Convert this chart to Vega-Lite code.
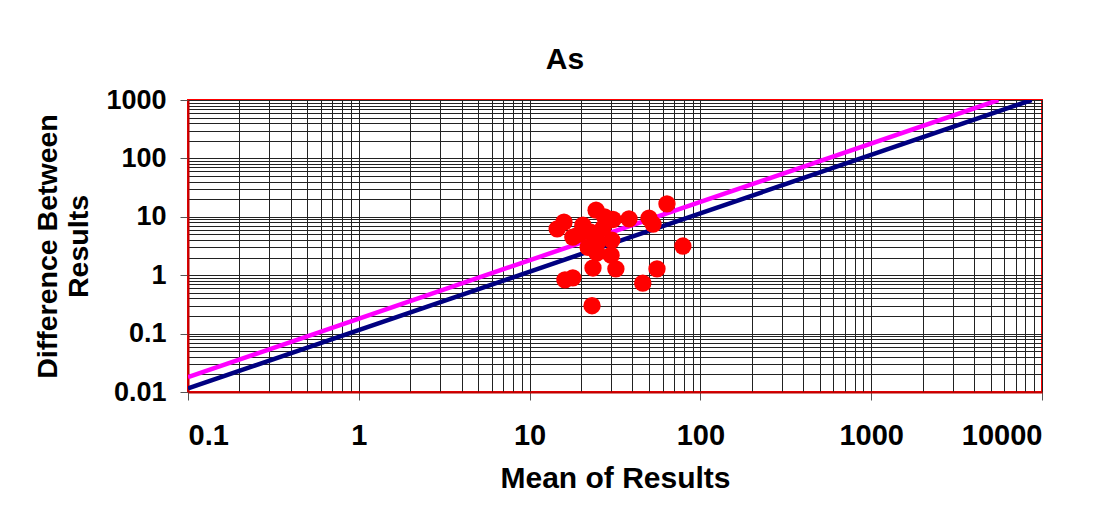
{
  "$schema": "https://vega.github.io/schema/vega-lite/v6.json",
  "width": 854,
  "height": 292,
  "autosize": {"type": "none"},
  "padding": {"left": 188, "top": 100, "right": 67, "bottom": 114},
  "background": "white",
  "title": {"text": "As", "fontSize": 30, "font": "Liberation Sans", "fontWeight": "bold", "color": "black", "offset": 11, "anchor": "middle", "dx": -50},
  "config": {
    "view": {"stroke": "red", "strokeWidth": 2},
    "axis": {
      "labelFont": "Liberation Sans", "labelFontWeight": "bold", "labelColor": "black",
      "titleFont": "Liberation Sans", "titleFontWeight": "bold", "titleColor": "black",
      "gridColor": "#222222", "gridWidth": 1, "gridOpacity": 1,
      "domainColor": "#c00000", "domainWidth": 2,
      "tickColor": "#555555", "tickSize": 8, "tickWidth": 1,
      "format": "~g",
      "labelExpr": "abs(log(datum.value)/LN10 - round(log(datum.value)/LN10)) < 0.001 ? datum.label : ''",
      "tickOpacity": {"condition": {"test": "abs(log(datum.value)/LN10 - round(log(datum.value)/LN10)) < 0.001", "value": 1}, "value": 0}
    }
  },
  "datasets": {
    "points": [
      {"mean": 14.5, "diff": 6.2},
      {"mean": 15.9, "diff": 8.1},
      {"mean": 17.9, "diff": 4.5},
      {"mean": 20.5, "diff": 7.2},
      {"mean": 24.5, "diff": 13},
      {"mean": 30.8, "diff": 9.0},
      {"mean": 38.2, "diff": 9.2},
      {"mean": 50, "diff": 9.5},
      {"mean": 52.8, "diff": 7.5},
      {"mean": 63.7, "diff": 16.6},
      {"mean": 79, "diff": 3.16},
      {"mean": 16.1, "diff": 0.83},
      {"mean": 17.9, "diff": 0.9},
      {"mean": 23.2, "diff": 0.3},
      {"mean": 23.5, "diff": 1.33},
      {"mean": 32, "diff": 1.28},
      {"mean": 46, "diff": 0.73},
      {"mean": 55.7, "diff": 1.28},
      {"mean": 22.6, "diff": 5.5},
      {"mean": 26.9, "diff": 6.4},
      {"mean": 25.1, "diff": 3.7},
      {"mean": 30.3, "diff": 4.0},
      {"mean": 24.8, "diff": 2.4},
      {"mean": 30, "diff": 2.2},
      {"mean": 19.5, "diff": 5.0},
      {"mean": 27.5, "diff": 10},
      {"mean": 22, "diff": 3.0}
    ],
    "lines": [
      {"series": "a", "mean": 0.1, "diff": 0.0115},
      {"series": "a", "mean": 8696, "diff": 1000},
      {"series": "b", "mean": 0.1, "diff": 0.018},
      {"series": "b", "mean": 5556, "diff": 1000}
    ]
  },
  "layer": [
    {
      "data": {"name": "lines"},
      "mark": {"type": "line", "strokeWidth": 4.5, "clip": true},
      "encoding": {
        "x": {"field": "mean", "type": "quantitative",
          "scale": {"type": "log", "domain": [0.1, 10000], "nice": false},
          "axis": {"title": "Mean of Results", "titleFontSize": 30, "labelFontSize": 29, "labelPadding": 21, "titlePadding": 13,
            "values": [0.1,0.2,0.3,0.4,0.5,0.6,0.7,0.8,0.9,1,2,3,4,5,6,7,8,9,10,20,30,40,50,60,70,80,90,100,200,300,400,500,600,700,800,900,1000,2000,3000,4000,5000,6000,7000,8000,9000,10000]}},
        "y": {"field": "diff", "type": "quantitative",
          "scale": {"type": "log", "domain": [0.01, 1000], "nice": false},
          "axis": {"title": ["Difference Between", "Results"], "titleFontSize": 28.5, "titleLineHeight": 31, "labelFontSize": 27, "labelPadding": 14, "titlePadding": 12,
            "values": [0.01,0.02,0.03,0.04,0.05,0.06,0.07,0.08,0.09,0.1,0.2,0.3,0.4,0.5,0.6,0.7,0.8,0.9,1,2,3,4,5,6,7,8,9,10,20,30,40,50,60,70,80,90,100,200,300,400,500,600,700,800,900,1000]}},
        "color": {"field": "series", "type": "nominal", "scale": {"domain": ["a", "b"], "range": ["#000080", "#ff00ff"]}, "legend": null},
        "order": {"field": "mean", "type": "quantitative"}
      }
    },
    {
      "data": {"name": "points"},
      "mark": {"type": "circle", "size": 300, "color": "#ff0000", "opacity": 1},
      "encoding": {
        "x": {"field": "mean", "type": "quantitative"},
        "y": {"field": "diff", "type": "quantitative"}
      }
    }
  ]
}
